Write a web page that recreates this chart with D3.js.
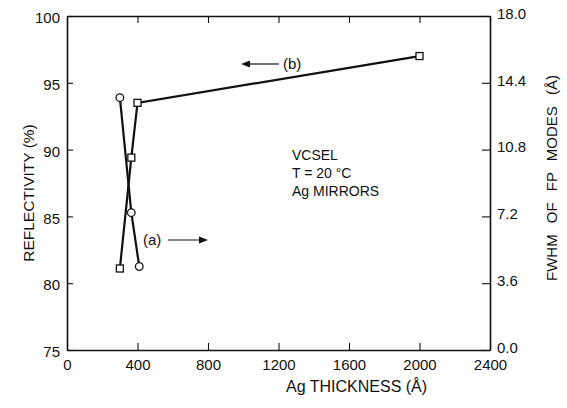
<!DOCTYPE html>
<html>
<head>
<meta charset="utf-8">
<script src="https://cdn.jsdelivr.net/npm/d3@7"></script>
<style>
  html, body { margin: 0; padding: 0; background: #fff; }
  svg { display: block; font-family: "Liberation Sans", Arial, sans-serif; }
</style>
</head>
<body>
<svg id="chart" width="567" height="408"></svg>
<script>
// ---- data ----
const thicknessB = [300, 365, 400, 2000];       // Å, series (b): reflectivity (squares)
const reflectivity = [81.1, 89.4, 93.5, 97.0];  // %
const thicknessA = [300, 365, 410];             // Å, series (a): FWHM (circles)
const fwhm = [13.6, 7.4, 4.5];                  // Å
const xTicks = [0, 400, 800, 1200, 1600, 2000, 2400];
const yLeftTicks = [75, 80, 85, 90, 95, 100];
const yRightTicks = [0, 3.6, 7.2, 10.8, 14.4, 18.0];
const notes = ["VCSEL", "T = 20 °C", "Ag MIRRORS"];

// ---- layout ----
const L = 67, R = 490, T = 16, B = 350;
const svg = d3.select("#chart");
const ink = "#111";

const x = d3.scaleLinear().domain([0, 2400]).range([L, R]);
const yL = d3.scaleLinear().domain([75, 100]).range([B, T]);
const yR = d3.scaleLinear().domain([0, 18]).range([B, T]);

function styleAxis(g) {
  g.selectAll("path.domain").attr("stroke", ink).attr("stroke-width", 1.6);
  g.selectAll(".tick line").attr("stroke", ink).attr("stroke-width", 1.1);
  g.selectAll(".tick text").attr("fill", ink).attr("font-size", 15)
    .attr("font-family", "'Liberation Sans', Arial, sans-serif");
}

// bottom
svg.append("g").attr("transform", `translate(0,${B})`)
  .call(d3.axisBottom(x).tickValues(xTicks).tickFormat(d3.format("d"))
    .tickSizeInner(-7).tickSizeOuter(0).tickPadding(9))
  .call(styleAxis);
// top
svg.append("g").attr("transform", `translate(0,${T})`)
  .call(d3.axisTop(x).tickValues(xTicks).tickFormat("")
    .tickSizeInner(-7).tickSizeOuter(0))
  .call(styleAxis);
// left
svg.append("g").attr("transform", `translate(${L},0)`)
  .call(d3.axisLeft(yL).tickValues(yLeftTicks).tickFormat(d3.format("d"))
    .tickSizeInner(-6).tickSizeOuter(0).tickPadding(7))
  .call(styleAxis)
  .selectAll(".tick text").attr("dy", "0.45em");
// right
svg.append("g").attr("transform", `translate(${R},0)`)
  .call(d3.axisRight(yR).tickValues(yRightTicks).tickFormat(d3.format(".1f"))
    .tickSizeInner(-8).tickSizeOuter(0).tickPadding(7))
  .call(styleAxis)
  .selectAll(".tick text").attr("dy", "0.15em");

// axis titles
svg.append("text").attr("x", 286).attr("y", 392)
  .attr("font-size", 16).attr("fill", ink).text("Ag THICKNESS (Å)");
svg.append("text")
  .attr("transform", `translate(34,${(T + B) / 2 + 10}) rotate(-90)`)
  .attr("text-anchor", "middle").attr("font-size", 15.5).attr("fill", ink)
  .text("REFLECTIVITY (%)");
svg.append("text")
  .attr("transform", `translate(557,178) rotate(-90)`)
  .attr("text-anchor", "middle").attr("font-size", 15).attr("fill", ink)
  .attr("word-spacing", 7)
  .text("FWHM OF FP MODES (Å)");

// lines
const lineB = d3.line().x((d, i) => x(thicknessB[i])).y(d => yL(d));
const lineA = d3.line().x((d, i) => x(thicknessA[i])).y(d => yR(d));
svg.append("path").datum(reflectivity).attr("d", lineB)
  .attr("fill", "none").attr("stroke", ink).attr("stroke-width", 2.2);
svg.append("path").datum(fwhm).attr("d", lineA)
  .attr("fill", "none").attr("stroke", ink).attr("stroke-width", 2.2);

// markers
svg.append("g").selectAll("rect").data(reflectivity).join("rect")
  .attr("x", (d, i) => x(thicknessB[i]) - 3.5)
  .attr("y", d => yL(d) - 3.5)
  .attr("width", 7).attr("height", 7)
  .attr("fill", "#fff").attr("stroke", ink).attr("stroke-width", 1.3);
svg.append("g").selectAll("circle").data(fwhm).join("circle")
  .attr("cx", (d, i) => x(thicknessA[i]))
  .attr("cy", d => yR(d))
  .attr("r", 3.8)
  .attr("fill", "#fff").attr("stroke", ink).attr("stroke-width", 1.3);

// annotations
svg.append("text").attr("x", 292).attr("y", 160).attr("font-size", 14)
  .attr("fill", ink).text(notes[0]);
svg.append("text").attr("x", 292).attr("y", 178).attr("font-size", 14)
  .attr("fill", ink).text(notes[1]);
svg.append("text").attr("x", 292).attr("y", 196).attr("font-size", 14)
  .attr("fill", ink).text(notes[2]);

// (a) with arrow to the right
svg.append("text").attr("x", 143).attr("y", 245).attr("font-size", 15)
  .attr("fill", ink).text("(a)");
svg.append("line").attr("x1", 168).attr("y1", 240).attr("x2", 202).attr("y2", 240)
  .attr("stroke", ink).attr("stroke-width", 1.2);
svg.append("path").attr("d", "M208,240 L199,236.5 L199,243.5 Z").attr("fill", ink);

// (b) with arrow to the left
svg.append("text").attr("x", 283).attr("y", 69).attr("font-size", 15)
  .attr("fill", ink).text("(b)");
svg.append("line").attr("x1", 248).attr("y1", 64).attr("x2", 279).attr("y2", 64)
  .attr("stroke", ink).attr("stroke-width", 1.2);
svg.append("path").attr("d", "M241,64 L250,60.5 L250,67.5 Z").attr("fill", ink);
</script>
</body>
</html>
